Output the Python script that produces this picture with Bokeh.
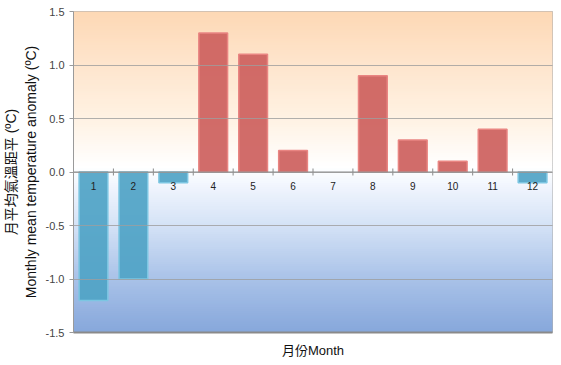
import numpy as np
from bokeh.plotting import figure
from bokeh.models import ColumnDataSource, Range1d, FixedTicker, Span
from bokeh.embed import file_html
from bokeh.resources import INLINE
from bokeh.core.properties import value

months = [1, 2, 3, 4, 5, 6, 7, 8, 9, 10, 11, 12]
month_labels = ["1", "2", "3", "4", "5", "6", "7", "8", "9", "10", "11", "12"]
anomaly = [-1.2, -1.0, -0.1, 1.3, 1.1, 0.2, 0.0, 0.9, 0.3, 0.1, 0.4, -0.1]
y_ticks = [-1.5, -1.0, -0.5, 0.0, 0.5, 1.0, 1.5]

p = figure(width=561, height=365, output_backend="svg", toolbar_location=None,
           x_range=Range1d(0.5, 12.5), y_range=Range1d(-1.5, 1.5),
           min_border_left=70, min_border_right=9, min_border_top=11, min_border_bottom=33,
           background_fill_color="white", border_fill_color="white")

# background gradient bands
stops_y = [-1.5, -1.0, -0.5, -0.1, 0.05, 0.5, 1.0, 1.5]
stops_c = ["#86a7db", "#a9c2e8", "#d4e2f6", "#f3f7fe", "#ffffff", "#fff2e3", "#fee5cd", "#fdd8b5"]
def hex2rgb(h):
    return np.array([int(h[i:i + 2], 16) for i in (1, 3, 5)], dtype=float)
rgb = np.array([hex2rgb(c) for c in stops_c])
edges = np.linspace(-1.5, 1.5, 151)
mids = (edges[:-1] + edges[1:]) / 2
cols = []
for m in mids:
    r = [np.interp(m, stops_y, rgb[:, k]) for k in range(3)]
    cols.append("#%02x%02x%02x" % tuple(int(round(v)) for v in r))
tops = np.minimum(edges[1:] + 0.02, 1.5)
p.quad(left=0.5, right=12.5, bottom=edges[:-1], top=tops, fill_color=cols, line_color=None)

colors = ["#cd5f5d" if v > 0 else "#4fa3c6" for v in anomaly]
edge_colors = ["#e98582" if v > 0 else "#7cc6e2" for v in anomaly]
edge_alpha = [0.0 if v == 0 else 1.0 for v in anomaly]
src = ColumnDataSource(dict(x=months, top=anomaly, c=colors, ec=edge_colors, ea=edge_alpha,
                            lab=month_labels))
p.vbar(x="x", top="top", bottom=0, width=0.72, source=src, fill_color="c",
       fill_alpha=0.92, line_color="ec", line_alpha="ea", line_width=1.5)

p.ygrid.ticker = FixedTicker(ticks=y_ticks)
p.ygrid.grid_line_color = "#9e9e9e"
p.ygrid.grid_line_alpha = 0.8
p.ygrid.level = "overlay"
p.xgrid.grid_line_color = None

zero = Span(location=0, dimension="width", line_color="#8a8a8a", line_width=1, level="overlay")
p.add_layout(zero)
p.scatter(x=np.arange(0.5, 13.0, 1.0)[1:-1], y=0, marker="dash", angle=np.pi / 2,
          size=7, line_color="#8a8a8a", line_width=1)

p.text(x="x", y=0, text="lab", source=src, y_offset=14, text_align="center",
       text_baseline="middle", text_font=value("Liberation Sans"), text_font_size="10px",
       text_color="#222222")

p.yaxis.ticker = FixedTicker(ticks=y_ticks)
p.yaxis.major_label_overrides = {t: "%.1f" % t for t in y_ticks}
p.yaxis.major_label_text_font = "Liberation Sans"
p.yaxis.major_label_text_font_size = "11px"
p.yaxis.major_label_text_color = "#444444"
p.yaxis.axis_line_color = "#9a9a9a"
p.yaxis.major_tick_line_color = "#9a9a9a"
p.yaxis.major_tick_out = 4
p.yaxis.major_tick_in = 0
p.yaxis.minor_tick_line_color = None
p.yaxis.axis_label = "月平均氣溫距平 (ºC)\nMonthly mean temperature anomaly (ºC)"
p.yaxis.axis_label_text_font = "Liberation Sans, Noto Sans CJK TC"
p.yaxis.axis_label_text_font_size = "14px"
p.yaxis.axis_label_text_font_style = "normal"
p.yaxis.axis_label_text_color = "#111111"
p.yaxis.axis_label_standoff = 4

p.xaxis.ticker = FixedTicker(ticks=[])
p.xaxis.major_label_text_font_size = "0px"
p.xaxis.axis_line_color = "#8a8a8a"
p.xaxis.axis_line_width = 2
p.xaxis.major_tick_line_color = None
p.xaxis.minor_tick_line_color = None
p.xaxis.axis_label = "月份Month"
p.xaxis.axis_label_text_font = "Liberation Sans, Noto Sans CJK TC"
p.xaxis.axis_label_text_font_size = "13px"
p.xaxis.axis_label_text_font_style = "normal"
p.xaxis.axis_label_text_color = "#111111"
p.xaxis.axis_label_standoff = 10

p.outline_line_color = "#b0b0b0"
p.outline_line_width = 1

open("out.html", "w").write(file_html(p, INLINE))
